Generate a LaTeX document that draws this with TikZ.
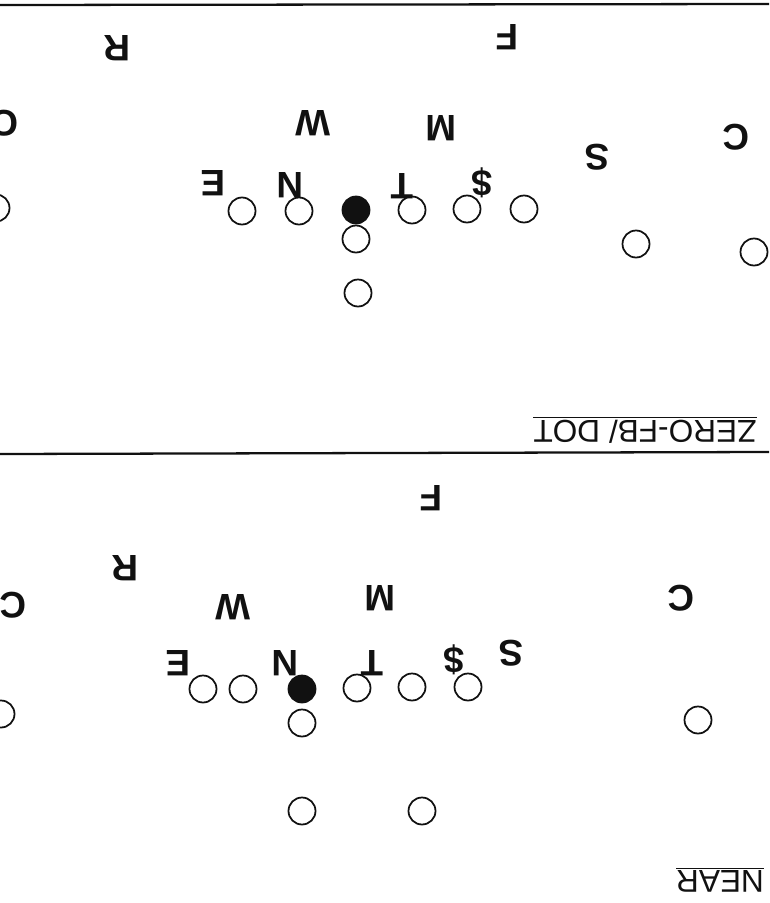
\documentclass[tikz,border=0pt]{standalone}
\usepackage{fontspec}
\setmainfont{Liberation Sans}
\usepackage{xcolor}
\usetikzlibrary{positioning}
\definecolor{dgink}{HTML}{111111}
\tikzset{
  man/.style={circle,draw=dgink,line width=1pt,minimum size=0.54cm,inner sep=0pt},
  ball/.style={man,fill=dgink},
  def/.style={rotate=180,inner sep=0pt,text=dgink,
              font=\fontsize{21}{24}\selectfont\bfseries},
  title/.style={rotate=180,inner sep=0pt,text=dgink,
                font=\fontsize{18}{21}\selectfont},
  yard/.style={draw=dgink,line width=1.3pt},
}
\begin{document}
\begin{tikzpicture}[x=0.02cm,y=-0.02cm]
  \useasboundingbox (0,0) rectangle (769,903);
  % panel rules
  \draw[yard] (0,5) -- (769,4);
  \draw[yard] (0,454) -- (769,452);
  % upper panel: ZERO-FB/ DOT
  \node[title] (zdot) at (645,430) {\underline{ZERO-FB/ DOT}};
  \node[man]  (u1)  at (-4,208)  {};
  \node[man]  (u2)  at (242,211) {};
  \node[man]  (u3)  at (299,211) {};
  \node[ball] (u4)  at (356,210) {};
  \node[man]  (u5)  at (412,210) {};
  \node[man]  (u6)  at (467,209) {};
  \node[man]  (u7)  at (524,209) {};
  \node[man]  (u8)  at (356,239) {};
  \node[man]  (u9)  at (358,293) {};
  \node[man]  (u10) at (636,244) {};
  \node[man]  (u11) at (754,252) {};
  \node[def] (uR) at (117,48)  {R};
  \node[def] (uF) at (507,37)  {F};
  \node[def] (uCa) at (5,123)  {C};
  \node[def] (uW) at (313,123) {W};
  \node[def] (uM) at (441,128) {M};
  \node[def] (uS) at (597,157) {S};
  \node[def] (uCb) at (736,137) {C};
  \node[def] (uE) at (213,183) {E};
  \node[def] (uN) at (290,185) {N};
  \node[def] (uT) at (402,186) {T};
  \node[def] (uD) at (482,183) {\$};
  % lower panel: NEAR
  \node[title] (near) at (720,880) {\underline{NEAR}};
  \node[man]  (l1)  at (203,689) {};
  \node[man]  (l2)  at (243,689) {};
  \node[ball] (l3)  at (302,689) {};
  \node[man]  (l4)  at (357,688) {};
  \node[man]  (l5)  at (412,687) {};
  \node[man]  (l6)  at (468,687) {};
  \node[man]  (l7)  at (1,714)   {};
  \node[man]  (l8)  at (302,723) {};
  \node[man]  (l9)  at (302,811) {};
  \node[man]  (l10) at (422,811) {};
  \node[man]  (l11) at (698,720) {};
  \node[def] (lR) at (125,568) {R};
  \node[def] (lF) at (431,498) {F};
  \node[def] (lCa) at (13,605) {C};
  \node[def] (lW) at (233,607) {W};
  \node[def] (lM) at (380,598) {M};
  \node[def] (lCb) at (681,598) {C};
  \node[def] (lE) at (178,663) {E};
  \node[def] (lN) at (285,663) {N};
  \node[def] (lT) at (372,663) {T};
  \node[def] (lD) at (454,660) {\$};
  \node[def] (lS) at (511,653) {S};
\end{tikzpicture}
\end{document}
